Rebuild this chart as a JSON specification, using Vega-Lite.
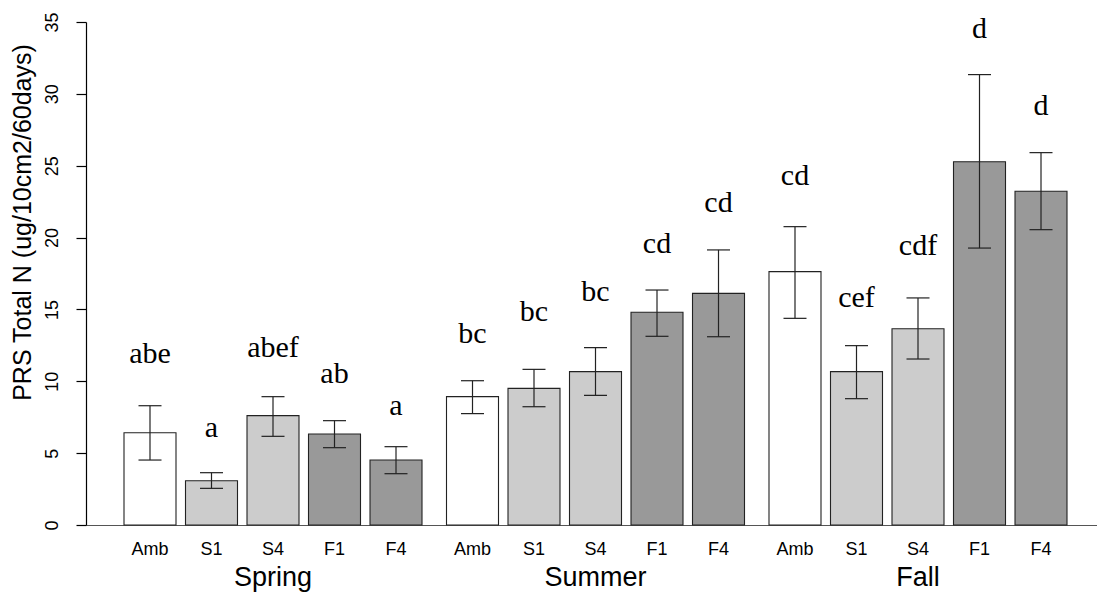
{
  "$schema": "https://vega.github.io/schema/vega-lite/v6.json",
  "width": 1011,
  "height": 503,
  "autosize": {"type": "none"},
  "padding": {"left": 86, "top": 22, "right": 0, "bottom": 69},
  "background": "white",
  "config": {"view": {"stroke": null}},
  "data": {
    "values": [
      {"season": "Spring", "treatment": "Amb", "mean": 6.42, "lower": 4.52, "upper": 8.30, "letter": "abe", "letter_y": 11.29},
      {"season": "Spring", "treatment": "S1", "mean": 3.08, "lower": 2.55, "upper": 3.64, "letter": "a", "letter_y": 6.14},
      {"season": "Spring", "treatment": "S4", "mean": 7.61, "lower": 6.17, "upper": 8.93, "letter": "abef", "letter_y": 11.71},
      {"season": "Spring", "treatment": "F1", "mean": 6.33, "lower": 5.38, "upper": 7.26, "letter": "ab", "letter_y": 9.86},
      {"season": "Spring", "treatment": "F4", "mean": 4.52, "lower": 3.57, "upper": 5.45, "letter": "a", "letter_y": 7.65},
      {"season": "Summer", "treatment": "Amb", "mean": 8.93, "lower": 7.75, "upper": 10.04, "letter": "bc", "letter_y": 12.64},
      {"season": "Summer", "treatment": "S1", "mean": 9.51, "lower": 8.23, "upper": 10.83, "letter": "bc", "letter_y": 14.22},
      {"season": "Summer", "treatment": "S4", "mean": 10.67, "lower": 9.02, "upper": 12.34, "letter": "bc", "letter_y": 15.61},
      {"season": "Summer", "treatment": "F1", "mean": 14.80, "lower": 13.13, "upper": 16.35, "letter": "cd", "letter_y": 18.93},
      {"season": "Summer", "treatment": "F4", "mean": 16.12, "lower": 13.10, "upper": 19.14, "letter": "cd", "letter_y": 21.80},
      {"season": "Fall", "treatment": "Amb", "mean": 17.63, "lower": 14.38, "upper": 20.76, "letter": "cd", "letter_y": 23.66},
      {"season": "Fall", "treatment": "S1", "mean": 10.67, "lower": 8.79, "upper": 12.48, "letter": "cef", "letter_y": 15.15},
      {"season": "Fall", "treatment": "S4", "mean": 13.66, "lower": 11.55, "upper": 15.80, "letter": "cdf", "letter_y": 18.79},
      {"season": "Fall", "treatment": "F1", "mean": 25.28, "lower": 19.27, "upper": 31.34, "letter": "d", "letter_y": 33.87},
      {"season": "Fall", "treatment": "F4", "mean": 23.22, "lower": 20.55, "upper": 25.91, "letter": "d", "letter_y": 28.53}
    ]
  },
  "encoding": {
    "x": {
      "field": "season",
      "type": "nominal",
      "sort": ["Spring", "Summer", "Fall"],
      "scale": {"paddingInner": 0.04651, "paddingOuter": 0.0907, "align": 0.5684},
      "axis": {
        "title": null,
        "ticks": false,
        "tickSize": 0,
        "labelAngle": 0,
        "labelFont": "Liberation Sans",
        "labelFontSize": 27,
        "labelColor": "#000",
        "labelBaseline": "alphabetic",
        "labelPadding": 60,
        "domainColor": "#555",
        "domainWidth": 1.2
      }
    },
    "xOffset": {
      "field": "treatment",
      "type": "nominal",
      "sort": ["Amb", "S1", "S4", "F1", "F4"],
      "scale": {"paddingInner": 0.1545, "paddingOuter": 0.0772}
    }
  },
  "layer": [
    {
      "mark": {"type": "bar", "stroke": "#222", "strokeWidth": 1.1},
      "encoding": {
        "y": {
          "field": "mean",
          "type": "quantitative",
          "scale": {"domain": [0, 35], "nice": false, "zero": true},
          "axis": {
            "title": "PRS Total N (ug/10cm2/60days)",
            "values": [0, 5, 10, 15, 20, 25, 30, 35],
            "grid": false,
            "tickSize": 10,
            "tickColor": "#000",
            "tickWidth": 1.2,
            "domainColor": "#000",
            "domainWidth": 1.2,
            "labelAngle": 270,
            "labelAlign": "center",
            "labelBaseline": "alphabetic",
            "labelPadding": 19,
            "labelFont": "Liberation Sans",
            "labelFontSize": 18,
            "labelColor": "#000",
            "titleFont": "Liberation Sans",
            "titleFontSize": 25,
            "titleFontWeight": "normal",
            "titleColor": "#000",
            "titleAngle": 270,
            "titleAlign": "center",
            "titleBaseline": "alphabetic",
            "titleX": -56,
            "titleY": 200
          }
        },
        "fill": {
          "field": "treatment",
          "type": "nominal",
          "scale": {"domain": ["Amb", "S1", "S4", "F1", "F4"], "range": ["#ffffff", "#cccccc", "#cccccc", "#999999", "#999999"]},
          "legend": null
        }
      }
    },
    {
      "mark": {"type": "rule", "color": "#222", "strokeWidth": 1.2},
      "encoding": {
        "y": {"field": "lower", "type": "quantitative"},
        "y2": {"field": "upper"}
      }
    },
    {
      "mark": {"type": "tick", "color": "#222", "thickness": 1.2, "size": 23, "opacity": 1},
      "encoding": {
        "y": {"field": "lower", "type": "quantitative"}
      }
    },
    {
      "mark": {"type": "tick", "color": "#222", "thickness": 1.2, "size": 23, "opacity": 1},
      "encoding": {
        "y": {"field": "upper", "type": "quantitative"}
      }
    },
    {
      "mark": {"type": "text", "font": "Liberation Serif", "fontSize": 30, "baseline": "alphabetic", "align": "center", "color": "#000"},
      "encoding": {
        "y": {"field": "letter_y", "type": "quantitative"},
        "text": {"field": "letter"}
      }
    },
    {
      "mark": {"type": "text", "font": "Liberation Sans", "fontSize": 18, "baseline": "alphabetic", "align": "center", "dy": 30, "color": "#000"},
      "encoding": {
        "y": {"datum": 0},
        "text": {"field": "treatment"}
      }
    }
  ]
}
